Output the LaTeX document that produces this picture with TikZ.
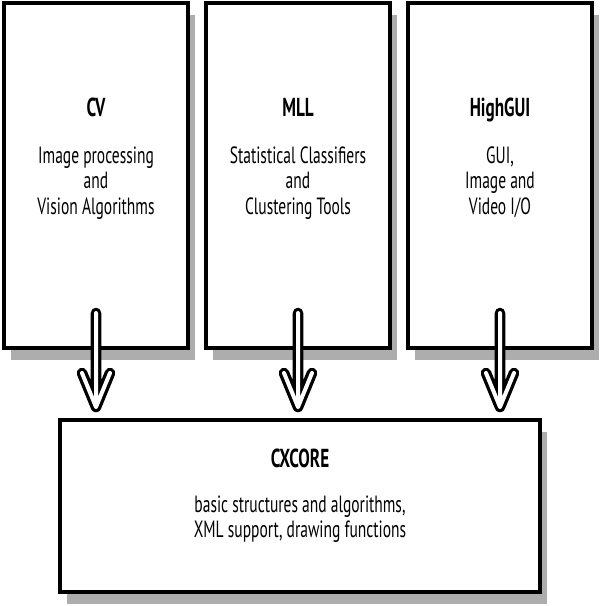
\documentclass[tikz,border=0pt]{standalone}
\usepackage{fontspec}
\setmainfont{PT Sans}[FakeStretch=0.66]
\usetikzlibrary{shadows}
\begin{document}
\begin{tikzpicture}[x=1pt,y=-1pt,
  box/.style={draw=black, line width=4pt, fill=white,
    drop shadow={shadow xshift=7pt, shadow yshift=-12pt, fill=black!32, opacity=1}},
  arr/.style={draw=black, line width=3.3pt, double=white, double distance=4pt,
    line cap=round, line join=round},
  ttl/.style={font=\fontsize{26}{30}\selectfont\bfseries, anchor=base, inner sep=0pt},
  txt/.style={font=\fontsize{23.5}{25}\selectfont, align=center, anchor=base, inner sep=0pt}
]
\useasboundingbox (0,0) rectangle (600,606);
% boxes
\path[box] (3.5,2.5) rectangle (188,348);
\path[box] (205.5,2.5) rectangle (390,348);
\path[box] (408,2.5) rectangle (592,348);
\path[box] (60,420) rectangle (540,592);
\node[inner sep=0pt] (cv) at (96,175) {};
\node[inner sep=0pt] (mll) at (298,175) {};
\node[inner sep=0pt] (hg) at (500,175) {};
\node[inner sep=0pt] (core) at (300,506) {};
% texts
\node[ttl] (cvt) at (96,116) {CV};
\node[txt] (cv1) at (96,163) {Image processing};
\node[txt] (cv2) at (96,188) {and};
\node[txt] (cv3) at (96,214) {Vision Algorithms};
\node[ttl] (mlt) at (298,116) {MLL};
\node[txt] (ml1) at (298,163) {Statistical Classifiers};
\node[txt] (ml2) at (298,188) {and};
\node[txt] (ml3) at (298,214) {Clustering Tools};
\node[ttl] (hgt) at (500,116) {HighGUI};
\node[txt] (hg1) at (500,163) {GUI,};
\node[txt] (hg2) at (500,188) {Image and};
\node[txt] (hg3) at (500,214) {Video I/O};
\node[ttl] (ct) at (300,467) {CXCORE};
\node[txt] (c1) at (300,512) {basic structures and algorithms,};
\node[txt] (c2) at (300,537) {XML support, drawing functions};
% arrows
\foreach \n/\x in {a1/96,a2/298,a3/500}{
  \coordinate (\n top) at (\x,313);
  \coordinate (\n tip) at (\x,407);
  \coordinate (\n l) at (\x-14,373);
  \coordinate (\n r) at (\x+14,373);
  \draw[arr] (\n top) -- (\n tip) (\n l) -- (\n tip) -- (\n r);
}
\end{tikzpicture}
\end{document}
